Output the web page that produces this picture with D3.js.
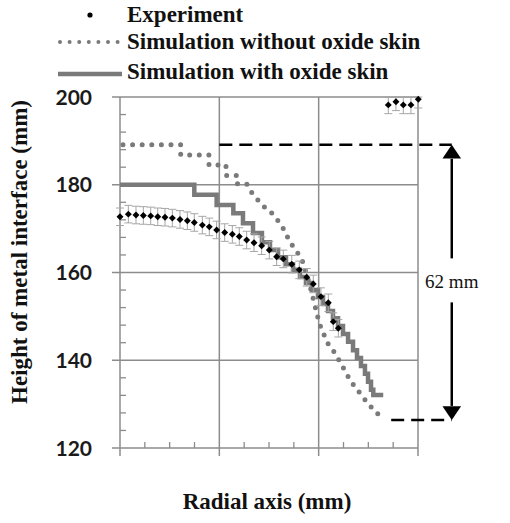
<!DOCTYPE html>
<html>
<head>
<meta charset="utf-8">
<script src="https://cdn.jsdelivr.net/npm/d3@7"></script>
<style>
  html, body { margin: 0; padding: 0; background: #fff; }
  svg { display: block; }
</style>
</head>
<body>
<div class="chart"></div>
<script>
/* ============================
 =            DATA            =
 ============================ */
// experiment (radius, height), +/- error
const expR = [0, 8.4, 16.1, 23.5, 30.9, 38.0, 45.3, 52.7, 60.4, 67.8, 74.8, 82.9, 89.9, 97.3, 105.4,
  113.1, 120.1, 127.5, 134.9, 142.6, 150.3, 157.7, 164.4, 172.9, 180.5, 188.0, 194.6, 202.3, 209.7,
  214.7, 219.8, 270.1, 277.8, 285.2, 292.9, 300.3];
const expH = [172.7, 173.3, 173.1, 173.0, 172.9, 172.7, 172.6, 172.4, 172.1, 171.8, 171.4, 170.8,
  170.4, 169.7, 169.1, 168.7, 168.2, 167.4, 166.8, 166.1, 165.1, 163.6, 163.1, 161.9, 160.6, 158.9,
  157.4, 154.5, 153.1, 148.8, 147.3, 198.2, 198.9, 198.2, 198.2, 199.5];
const expErr = 2;

// simulation without oxide skin (dotted)
const noSkinR = [3.0, 61.1, 61.1, 89.6, 89.6, 106.7, 106.7, 117.8, 117.8, 127.5, 132.9, 138.9, 145.0,
  151.0, 157.0, 163.1, 168.1, 173.1, 178.2, 183.2, 187.2, 191.3, 195.3, 199.8, 202.3, 205.4, 208.4,
  211.4, 216.4, 221.5, 226.5, 231.5, 236.6, 241.6, 247.6, 253.7, 258.7, 261.7];
const noSkinH = [189.1, 189.1, 186.8, 186.8, 184.5, 184.5, 182.1, 182.1, 180.2, 180.2, 178.1, 176.5,
  175.0, 174.0, 172.4, 170.6, 168.3, 166.3, 164.7, 162.9, 160.1, 156.9, 153.3, 149.2, 147.4, 145.8,
  144.2, 143.0, 141.7, 139.6, 137.6, 135.5, 133.9, 132.5, 130.7, 129.1, 128.2, 126.7];

// simulation with oxide skin (stepped)
const skinR = [0, 74.8, 97.3, 114.1, 123.8, 133.9, 142.9, 151.0, 159.1, 167.1, 174.2, 181.2, 187.2,
  193.3, 199.3, 204.4, 209.4, 214.4, 219.5, 224.5, 229.6, 234.6, 238.6, 242.6, 246.6, 249.7, 252.7,
  255.0, 265.0];
const skinH = [180.0, 177.7, 175.4, 173.5, 171.2, 169.0, 166.9, 165.1, 163.5, 161.9, 160.6, 159.0,
  157.6, 156.0, 154.4, 152.8, 151.2, 149.6, 147.8, 146.0, 144.2, 142.3, 140.5, 138.7, 136.9, 135.1,
  133.3, 132.1, 132.1];

const yTicks = [120, 140, 160, 180, 200];
const xTicks = [0, 100, 200, 300];
const legendLabels = ['Experiment', 'Simulation without oxide skin', 'Simulation with oxide skin'];

// 62 mm annotation
const annTop = 189.1,
  annBottom = 126.4,
  annR = 334,
  annLabel = '62 mm';

/* ============================
 =           CHART            =
 ============================ */
const width = 510,
  height = 523,
  gridColor = '#8c8c8c',
  simColor = '#7a7a7a',
  serif = '"Liberation Serif", "Times New Roman", serif';

const x = d3.scaleLinear().domain([0, 300]).range([120, 418]);
const y = d3.scaleLinear().domain([120, 200]).range([448, 97]);

const svg = d3.select('.chart')
  .append('svg')
  .attr('width', width)
  .attr('height', height);

// grid
svg.append('g')
  .selectAll('line')
  .data(yTicks)
  .enter()
  .append('line')
  .attr('x1', x(0) - 8)
  .attr('x2', x(300))
  .attr('y1', d => y(d))
  .attr('y2', d => y(d))
  .attr('stroke', gridColor)
  .attr('stroke-width', 1.5);

svg.append('g')
  .selectAll('line')
  .data(xTicks)
  .enter()
  .append('line')
  .attr('x1', d => x(d))
  .attr('x2', d => x(d))
  .attr('y1', y(200))
  .attr('y2', y(120) + 8)
  .attr('stroke', gridColor)
  .attr('stroke-width', 1.5);

// minor ticks
const yMinor = d3.range(120, 200, 4).filter(v => v % 20 !== 0);
svg.append('g')
  .selectAll('line')
  .data(yMinor)
  .enter()
  .append('line')
  .attr('x1', x(0))
  .attr('x2', x(0) + 6)
  .attr('y1', d => y(d))
  .attr('y2', d => y(d))
  .attr('stroke', gridColor)
  .attr('stroke-width', 1.3);

const xMinor = d3.range(0, 300, 25).filter(v => v % 100 !== 0);
svg.append('g')
  .selectAll('line')
  .data(xMinor)
  .enter()
  .append('line')
  .attr('x1', d => x(d))
  .attr('x2', d => x(d))
  .attr('y1', y(120))
  .attr('y2', y(120) - 6)
  .attr('stroke', gridColor)
  .attr('stroke-width', 1.3);

// y tick labels
svg.append('g')
  .selectAll('text')
  .data(yTicks)
  .enter()
  .append('text')
  .attr('x', 92)
  .attr('y', d => y(d))
  .attr('dy', '0.36em')
  .attr('text-anchor', 'end')
  .attr('font-family', 'Lato, "Open Sans", sans-serif')
  .attr('font-weight', 'bold')
  .attr('font-size', 21)
  .attr('fill', '#1a1a1a')
  .text(d => d);

// axis titles
svg.append('text')
  .attr('transform', 'translate(27,' + 252 + ') rotate(-90)')
  .attr('text-anchor', 'middle')
  .attr('font-family', serif)
  .attr('font-weight', 'bold')
  .attr('font-size', 23)
  .attr('fill', '#111')
  .text('Height of metal interface (mm)');

svg.append('text')
  .attr('x', 267)
  .attr('y', 509)
  .attr('text-anchor', 'middle')
  .attr('font-family', serif)
  .attr('font-weight', 'bold')
  .attr('font-size', 23)
  .attr('fill', '#111')
  .text('Radial axis (mm)');

// series
const line = d3.line()
  .x(d => x(d[0]))
  .y(d => y(d[1]));

svg.append('path')
  .datum(noSkinR.map((r, i) => [r, noSkinH[i]]))
  .attr('d', line)
  .attr('fill', 'none')
  .attr('stroke', simColor)
  .attr('stroke-width', 5)
  .attr('stroke-linecap', 'round')
  .attr('stroke-dasharray', '0 9.6');

svg.append('path')
  .datum(skinR.map((r, i) => [r, skinH[i]]))
  .attr('d', line.curve(d3.curveStepAfter))
  .attr('fill', 'none')
  .attr('stroke', simColor)
  .attr('stroke-width', 4.5);

// experiment error bars
const expData = expR.map((r, i) => [r, expH[i]]);
const err = svg.append('g')
  .attr('stroke', '#a6a6a6')
  .attr('stroke-width', 1);
err.selectAll('.bar')
  .data(expData)
  .enter()
  .append('line')
  .attr('x1', d => x(d[0]))
  .attr('x2', d => x(d[0]))
  .attr('y1', d => y(Math.min(d[1] + expErr, 200)))
  .attr('y2', d => y(d[1] - expErr));
err.selectAll('.cap')
  .data(expData.flatMap(d => [[d[0], Math.min(d[1] + expErr, 200)], [d[0], d[1] - expErr]]))
  .enter()
  .append('line')
  .attr('x1', d => x(d[0]) - 4)
  .attr('x2', d => x(d[0]) + 4)
  .attr('y1', d => y(d[1]))
  .attr('y2', d => y(d[1]));

svg.append('g')
  .selectAll('path')
  .data(expData)
  .enter()
  .append('path')
  .attr('d', d3.symbol(d3.symbolSquare, 24))
  .attr('transform', d => 'translate(' + x(d[0]) + ',' + y(d[1]) + ') rotate(45)')
  .attr('fill', '#000');

// annotation
const ann = svg.append('g')
  .attr('stroke', '#000')
  .attr('stroke-width', 2.5)
  .attr('stroke-dasharray', '13 7')
  .attr('fill', 'none');
ann.append('line')
  .attr('x1', x(100))
  .attr('x2', x(annR))
  .attr('y1', y(annTop))
  .attr('y2', y(annTop));
ann.append('line')
  .attr('x1', x(273))
  .attr('x2', x(annR))
  .attr('y1', y(annBottom))
  .attr('y2', y(annBottom));

const mid = (y(annTop) + y(annBottom)) / 2;
const arrow = svg.append('g');
arrow.append('line')
  .attr('x1', x(annR)).attr('x2', x(annR))
  .attr('y1', y(annTop) + 14).attr('y2', mid - 24)
  .attr('stroke', '#000').attr('stroke-width', 2.5);
arrow.append('line')
  .attr('x1', x(annR)).attr('x2', x(annR))
  .attr('y1', mid + 20).attr('y2', y(annBottom) - 14)
  .attr('stroke', '#000').attr('stroke-width', 2.5);
arrow.append('path')
  .attr('d', d3.symbol(d3.symbolTriangle, 150))
  .attr('transform', 'translate(' + x(annR) + ',' + (y(annTop) + 9) + ') scale(1,0.85)')
  .attr('fill', '#000');
arrow.append('path')
  .attr('d', d3.symbol(d3.symbolTriangle, 150))
  .attr('transform', 'translate(' + x(annR) + ',' + (y(annBottom) - 9) + ') rotate(180) scale(1,0.85)')
  .attr('fill', '#000');
arrow.append('text')
  .attr('x', x(annR))
  .attr('y', mid + 6)
  .attr('text-anchor', 'middle')
  .attr('font-family', serif)
  .attr('font-size', 19)
  .attr('fill', '#111')
  .text(annLabel);

// legend
const legend = svg.append('g');
const legendY = [22, 49, 79];
legend.selectAll('text')
  .data(legendLabels)
  .enter()
  .append('text')
  .attr('x', 127)
  .attr('y', (d, i) => legendY[i])
  .attr('font-family', serif)
  .attr('font-weight', 'bold')
  .attr('font-size', 23)
  .attr('fill', '#111')
  .text(d => d);
legend.append('circle')
  .attr('cx', 90)
  .attr('cy', 15)
  .attr('r', 2.6)
  .attr('fill', '#000');
legend.append('line')
  .attr('x1', 60).attr('x2', 122)
  .attr('y1', 42).attr('y2', 42)
  .attr('stroke', simColor)
  .attr('stroke-width', 4)
  .attr('stroke-linecap', 'round')
  .attr('stroke-dasharray', '0 9.6');
legend.append('line')
  .attr('x1', 58).attr('x2', 122)
  .attr('y1', 74).attr('y2', 74)
  .attr('stroke', simColor)
  .attr('stroke-width', 4.5);
</script>
</body>
</html>
